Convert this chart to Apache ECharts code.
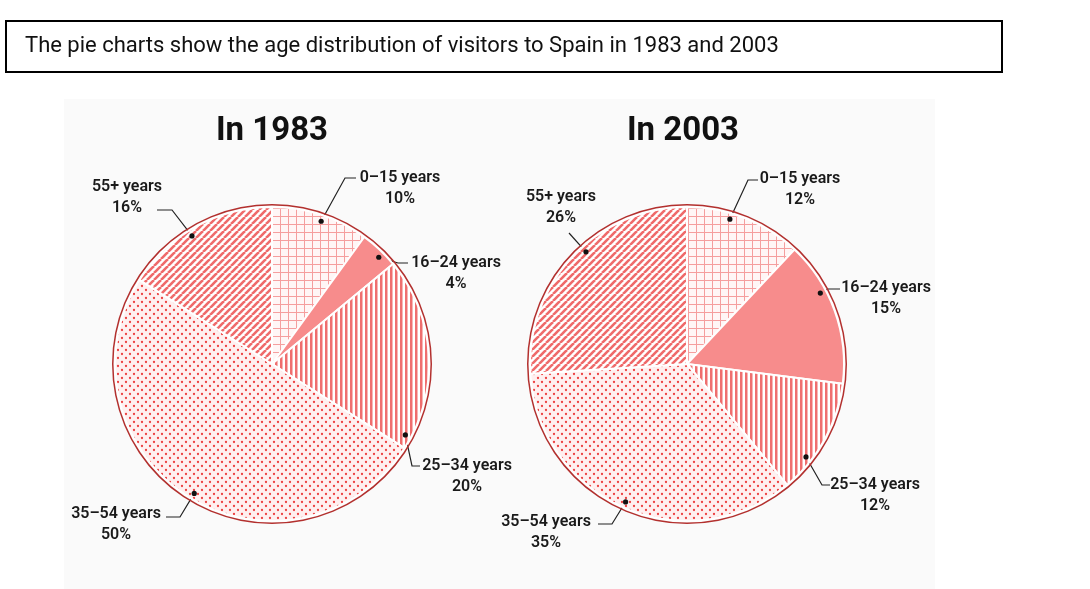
<!DOCTYPE html>
<html>
<head>
<meta charset="utf-8">
<script src="https://cdn.jsdelivr.net/npm/echarts@6/dist/echarts.min.js"></script>
<style>
  html, body { margin: 0; padding: 0; background: #fff; }
  #chart { width: 1090px; height: 589px; }
</style>
</head>
<body>
<div id="chart"></div>
<script>
// age groups, same order in both years
var ageGroups = ['0–15 years', '16–24 years', '25–34 years', '35–54 years', '55+ years']
var values1983 = [10, 4, 20, 50, 16]
var values2003 = [12, 15, 12, 35, 26]
var years = ['In 1983', 'In 2003']

// small canvas tiles used as fill patterns
function tile(w, h, draw) {
  var c = document.createElement('canvas')
  c.width = w
  c.height = h
  draw(c.getContext('2d'), w, h)
  return c
}
var gridTile = tile(8, 8, function (ctx, w, h) {
  ctx.fillStyle = '#fff6f6'
  ctx.fillRect(0, 0, w, h)
  ctx.fillStyle = '#f59e9e'
  ctx.fillRect(0, 0, w, 1)
  ctx.fillRect(0, 0, 1, h)
})
var stripeTile = tile(5, 5, function (ctx, w, h) {
  ctx.fillStyle = '#ffffff'
  ctx.fillRect(0, 0, w, h)
  ctx.fillStyle = '#ef6e6e'
  ctx.fillRect(0, 0, 2.5, h)
})
var dotTile = tile(8, 8, function (ctx, w, h) {
  ctx.fillStyle = '#fff0f0'
  ctx.fillRect(0, 0, w, h)
  ctx.fillStyle = '#ec4242'
  ctx.beginPath(); ctx.arc(2, 2, 1.15, 0, Math.PI * 2); ctx.fill()
  ctx.beginPath(); ctx.arc(6, 6, 1.15, 0, Math.PI * 2); ctx.fill()
})
var diagTile = tile(7, 7, function (ctx, w, h) {
  ctx.fillStyle = '#ffffff'
  ctx.fillRect(0, 0, w, h)
  ctx.strokeStyle = '#ef6a6a'
  ctx.lineWidth = 2.6
  ;[-7, 0, 7].forEach(function (o) {
    ctx.beginPath(); ctx.moveTo(o, 7); ctx.lineTo(o + 7, 0); ctx.stroke()
  })
})
var fills = [
  { image: gridTile, repeat: 'repeat' },
  '#f78c8c',
  { image: stripeTile, repeat: 'repeat' },
  { image: dotTile, repeat: 'repeat' },
  { image: diagTile, repeat: 'repeat' }
]

var centers = [[272, 364], [687, 364]]
var radius = 157

// where each callout sits: angle of the dot on the pie (deg from 12 o'clock),
// elbow of the leader line, end of the leader line, label centre x and top y
var callouts = [
  [
    { ang: 19, elbow: [345, 178], end: [356, 178], x: 400, y: 167 },
    { ang: 45, elbow: [398, 263], end: [408, 263], x: 456, y: 252 },
    { ang: 118, elbow: [412, 466], end: [420, 466], x: 467, y: 455 },
    { ang: 211, elbow: [180, 517], end: [166, 517], x: 116, y: 503 },
    { ang: 328, elbow: [172, 210], end: [157, 210], x: 127, y: 176 }
  ],
  [
    { ang: 16.5, elbow: [748, 180], end: [758, 180], x: 800, y: 168 },
    { ang: 62, elbow: [828, 289], end: [840, 289], x: 886, y: 277 },
    { ang: 128, elbow: [822, 485], end: [830, 485], x: 875, y: 474 },
    { ang: 204, elbow: [612, 524], end: [598, 524], x: 546, y: 511 },
    { ang: 318, elbow: [569, 233], end: [569, 233], x: 561, y: 186 }
  ]
]

function dotPoint(p, c) {
  var a = c.ang * Math.PI / 180
  var r = radius - 6
  return [centers[p][0] + r * Math.sin(a), centers[p][1] - r * Math.cos(a)]
}

function pieSeries(p, values) {
  return {
    type: 'pie',
    center: centers[p],
    radius: radius,
    startAngle: 90,
    clockwise: true,
    avoidLabelOverlap: false,
    itemStyle: { borderColor: '#fff', borderWidth: 2 },
    label: {
      formatter: '{t|{b}}\n{t|{c}%}',
      rich: {
        t: { fontFamily: 'Roboto', fontWeight: 600, fontSize: 16, lineHeight: 21, color: '#1a1a1a', align: 'center' }
      }
    },
    labelLine: {
      lineStyle: { color: '#222', width: 1.2 }
    },
    labelLayout: function (params) {
      var c = callouts[p][params.dataIndex]
      return {
        x: c.x,
        y: c.y,
        align: 'center',
        verticalAlign: 'top',
        labelLinePoints: [dotPoint(p, c), c.elbow, c.end]
      }
    },
    emphasis: { disabled: true },
    data: ageGroups.map(function (name, i) {
      return { name: name, value: values[i], itemStyle: { color: fills[i] } }
    })
  }
}

function ringSeries(p) {
  return {
    type: 'pie',
    center: centers[p],
    radius: [radius + 1.5, radius + 3],
    silent: true,
    label: { show: false },
    labelLine: { show: false },
    itemStyle: { color: '#b3302e' },
    data: [{ value: 1, name: '' }]
  }
}

var dots = []
callouts.forEach(function (list, p) {
  list.forEach(function (c) {
    var pt = dotPoint(p, c)
    dots.push({
      type: 'circle',
      shape: { cx: pt[0], cy: pt[1], r: 2.6 },
      style: { fill: '#111' },
      z: 100
    })
  })
})

var chart = echarts.init(document.getElementById('chart'))
chart.setOption({
  animation: false,
  backgroundColor: '#fff',
  graphic: [
    {
      type: 'rect',
      shape: { x: 64, y: 99, width: 871, height: 490 },
      style: { fill: '#fafafa' },
      z: -10
    },
    {
      type: 'rect',
      shape: { x: 6, y: 21, width: 996, height: 51 },
      style: { fill: '#fff', stroke: '#000', lineWidth: 2 }
    },
    {
      type: 'text',
      x: 25,
      y: 46,
      style: {
        text: 'The pie charts show the age distribution of visitors to Spain in 1983 and 2003',
        font: '22px Roboto',
        fill: '#111',
        verticalAlign: 'middle'
      }
    }
  ].concat(dots),
  title: years.map(function (t, i) {
    return {
      text: t,
      left: centers[i][0] - (i === 1 ? 9 : 5),
      top: 110,
      textAlign: 'center',
      textStyle: { fontFamily: 'Roboto', fontWeight: 'bold', fontSize: 33, color: '#111' }
    }
  }),
  series: [
    pieSeries(0, values1983),
    ringSeries(0),
    pieSeries(1, values2003),
    ringSeries(1)
  ]
})
</script>
</body>
</html>
